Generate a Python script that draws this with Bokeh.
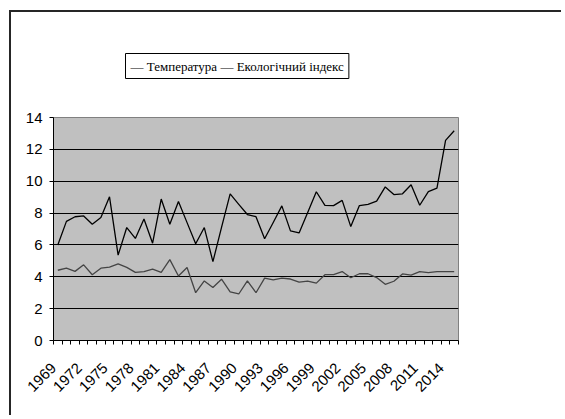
import math
from bokeh.plotting import figure
from bokeh.models import FixedTicker, ColumnDataSource
from bokeh.embed import file_html
from bokeh.resources import INLINE

years = [1969, 1970, 1971, 1972, 1973, 1974, 1975, 1976, 1977, 1978,
         1979, 1980, 1981, 1982, 1983, 1984, 1985, 1986, 1987, 1988,
         1989, 1990, 1991, 1992, 1993, 1994, 1995, 1996, 1997, 1998,
         1999, 2000, 2001, 2002, 2003, 2004, 2005, 2006, 2007, 2008,
         2009, 2010, 2011, 2012, 2013, 2014, 2015]

temperature = [6.00, 7.48, 7.77, 7.82, 7.30, 7.72, 9.02, 5.36, 7.09, 6.41,
               7.63, 6.11, 8.88, 7.30, 8.73, 7.40, 6.07, 7.09, 4.95, 7.10,
               9.20, 8.55, 7.91, 7.77, 6.39, 7.41, 8.45, 6.88, 6.75, 8.04,
               9.34, 8.48, 8.47, 8.80, 7.15, 8.47, 8.55, 8.75, 9.64, 9.16,
               9.21, 9.78, 8.49, 9.35, 9.57, 12.56, 13.17]

eco_index = [4.41, 4.54, 4.34, 4.75, 4.13, 4.54, 4.61, 4.81, 4.59, 4.28,
             4.33, 4.48, 4.28, 5.08, 4.05, 4.58, 3.00, 3.74, 3.33, 3.85,
             3.06, 2.92, 3.74, 3.00, 3.92, 3.80, 3.92, 3.86, 3.66, 3.73,
             3.60, 4.13, 4.13, 4.33, 3.94, 4.19, 4.19, 3.95, 3.53, 3.72,
             4.18, 4.11, 4.33, 4.26, 4.33, 4.33, 4.33]

tick_years = [1969, 1972, 1975, 1978, 1981, 1984, 1987, 1990, 1993, 1996,
              1999, 2002, 2005, 2008, 2011, 2014]
y_ticks = [0, 2, 4, 6, 8, 10, 12, 14]
grid_ticks = [2, 4, 6, 8, 10, 12]

labels = ["Температура", "Екологічний індекс"]

idx = list(range(len(years)))
src = ColumnDataSource(dict(x=idx, temp=temperature, eco=eco_index))

p = figure(width=552, height=405, output_backend="svg", toolbar_location=None,
           x_range=(-0.5, len(years) - 0.5), y_range=(0, 14),
           min_border_left=42, min_border_right=105,
           min_border_top=65, min_border_bottom=77)
# chart-area border (top and left edges visible in the reference)
p.styles = {"margin-left": "9px", "margin-top": "10px",
            "border-left": "2px solid #262626", "border-top": "2px solid #262626"}

p.background_fill_color = "#c0c0c0"
p.border_fill_color = "white"
p.outline_line_color = "#808080"
p.outline_line_width = 1

r1 = p.line("x", "temp", source=src, line_color="black", line_width=1.3)
r2 = p.line("x", "eco", source=src, line_color="#444444", line_width=1.3)

# legend drawn as a boxed text line above the plot area
p.title.text = "— " + labels[0] + " — " + labels[1]
p.title.align = "left"
p.title.offset = 72
p.title.standoff = 78
p.title.text_font = "Liberation Serif"
p.title.text_font_size = "13px"
p.title.text_font_style = "normal"
p.title.text_color = "black"
p.title.border_line_color = "black"
p.title.border_line_width = 1
p.title.background_fill_color = "white"
p.title.padding = 5

# x axis: labels under category centres, tick marks on category boundaries
label_shift = 0.5
tick_pos = [years.index(y) - label_shift for y in tick_years]
p.xaxis.ticker = FixedTicker(ticks=tick_pos,
                             minor_ticks=[i - 0.5 for i in range(len(years) + 1)])
p.xaxis.major_label_overrides = {years.index(y) - label_shift: str(y) for y in tick_years}
p.xaxis.major_label_orientation = math.pi / 4
p.xaxis.major_tick_line_color = None
p.xaxis.major_tick_out = 0
p.xaxis.major_tick_in = 0
p.xaxis.minor_tick_out = 4
p.xaxis.minor_tick_in = 0
p.xaxis.minor_tick_line_color = "black"
p.xaxis.major_label_standoff = 21
p.xaxis.axis_line_color = "black"

# y axis
p.yaxis.ticker = FixedTicker(ticks=y_ticks)
p.yaxis.minor_tick_line_color = None
p.yaxis.major_tick_out = 4
p.yaxis.major_tick_in = 0
p.yaxis.major_tick_line_color = "black"
p.yaxis.major_label_standoff = 7
p.yaxis.axis_line_color = "black"

for ax in (p.xaxis, p.yaxis):
    ax.major_label_text_font = "Liberation Sans"
    ax.major_label_text_font_size = "15px"
    ax.major_label_text_color = "black"

p.xgrid.visible = False
p.ygrid.ticker = FixedTicker(ticks=grid_ticks)
p.ygrid.grid_line_color = "black"
p.ygrid.grid_line_width = 1

open("out.html", "w").write(file_html(p, INLINE))
